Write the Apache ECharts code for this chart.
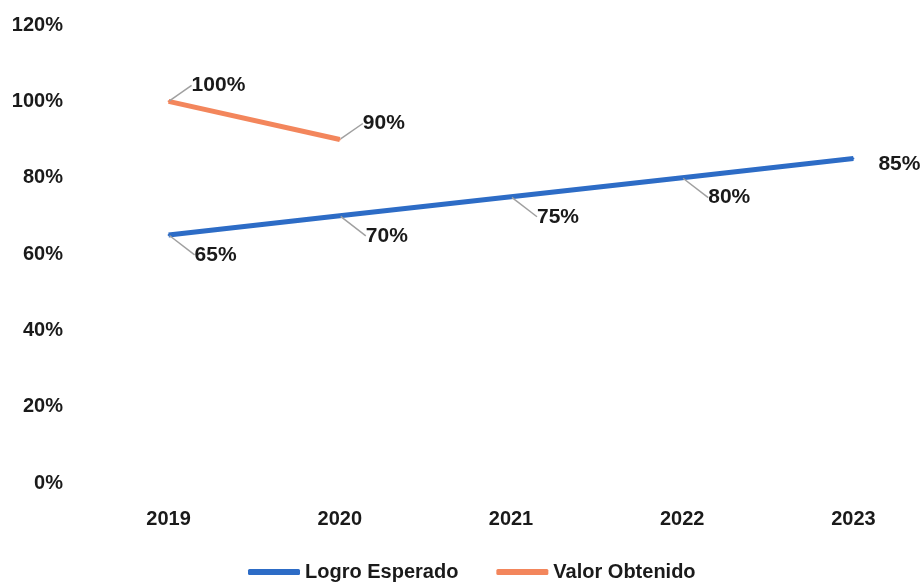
<!DOCTYPE html>
<html><head><meta charset="utf-8">
<script src="https://cdn.jsdelivr.net/npm/echarts@6/dist/echarts.min.js"></script>
<style>html,body{margin:0;padding:0;background:#fff}#c{width:923px;height:582px}</style>
</head><body><div id="c"></div>
<script>
var categories = ['2019','2020','2021','2022','2023'];
var logroEsperado = [65, 70, 75, 80, 85];
var valorObtenido = [100, 90, null, null, null];
var yTicks = [0, 20, 40, 60, 80, 100, 120];

var FONT = "'Liberation Sans', Arial, sans-serif";
var txt = {fontFamily: FONT, fontWeight: 'bold', fontSize: 20, color: '#1a1a1a'};
var dlabel = Object.assign({}, txt, {fontSize: 21});

var logroData = logroEsperado.map(function(v, i){
  return i === logroEsperado.length - 1 ? {value: v, labelLine: {show: false}} : v;
});

var chart = echarts.init(document.getElementById('c'));
chart.setOption({
  animation: false,
  backgroundColor: '#fff',
  grid: {left: 83, right: -16, top: 25, bottom: 99, containLabel: false, outerBoundsMode: 'none'},
  xAxis: {
    type: 'category', data: categories, boundaryGap: true,
    axisLine: {show: false}, axisTick: {show: false},
    axisLabel: Object.assign({margin: 26}, txt)
  },
  yAxis: {
    type: 'value', min: yTicks[0], max: yTicks[yTicks.length-1], interval: 20,
    axisLine: {show: false}, axisTick: {show: false},
    splitLine: {show: false},
    axisLabel: Object.assign({margin: 20, formatter: function(v){return v + '%';}}, txt)
  },
  legend: {
    top: 557, left: 243, itemGap: 38, itemWidth: 52, itemHeight: 6,
    icon: 'roundRect',
    textStyle: Object.assign({}, txt, {fontSize: 20}),
    data: ['Logro Esperado', 'Valor Obtenido']
  },
  series: [
    {
      name: 'Logro Esperado', type: 'line', data: logroData,
      symbol: 'circle', symbolSize: 2, showSymbol: true,
      lineStyle: {width: 5, color: '#2D6CC6'}, itemStyle: {color: '#2D6CC6'},
      label: Object.assign({show: true, position: 'right', distance: 4,
        formatter: function(p){return p.value + '%';}}, dlabel),
      labelLine: {show: true, lineStyle: {color: '#a0a0a0', width: 1.5}},
      labelLayout: function(p){
        if (p.dataIndex === 4) return {dx: 20, dy: 6};
        return {dx: 21, dy: 20};
      }
    },
    {
      name: 'Valor Obtenido', type: 'line', data: valorObtenido,
      symbol: 'circle', symbolSize: 2, showSymbol: true,
      lineStyle: {width: 5, color: '#F3865C'}, itemStyle: {color: '#F3865C'},
      label: Object.assign({show: true, position: 'right', distance: 4,
        formatter: function(p){return p.value + '%';}}, dlabel),
      labelLine: {show: true, lineStyle: {color: '#a0a0a0', width: 1.5}},
      labelLayout: function(p){ return {dx: 18, dy: -16}; }
    }
  ]
});
</script></body></html>
